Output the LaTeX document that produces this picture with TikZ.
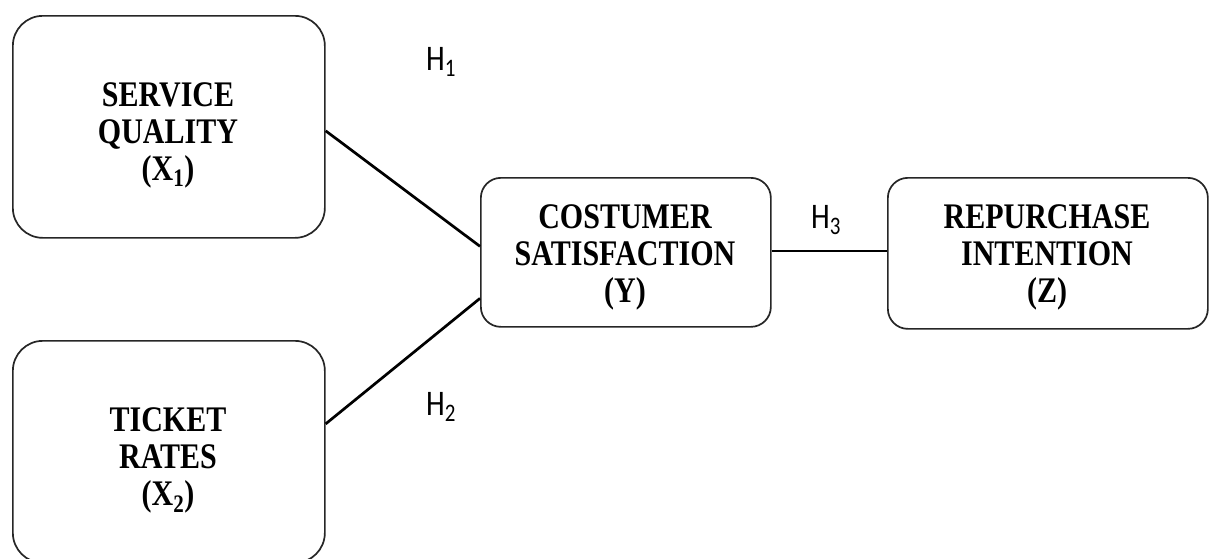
\documentclass[tikz,border=0pt]{standalone}
\usepackage{fontspec}
\usepackage{graphicx}
\setmainfont{Liberation Serif}
\newfontfamily\hfont{Carlito}
\tikzset{
  bigbox/.style={draw=black!85, line width=1.7pt, rounded corners=30pt, fill=white},
  midbox/.style={draw=black!85, line width=1.7pt, rounded corners=20pt, fill=white},
  lbl/.style={font=\fontsize{30pt}{31pt}\selectfont\bfseries, align=center, inner sep=0pt},
  hyp/.style={font=\hfont\fontsize{30pt}{31pt}\selectfont, inner sep=0pt},
  conn/.style={line width=2.7pt, black}
}
\newcommand{\tall}[1]{\scalebox{1}[1.2]{#1}}
\begin{document}
\begin{tikzpicture}[x=1pt,y=-1pt]
\useasboundingbox (0,0) rectangle (1209,558);
\node[bigbox, minimum width=312pt, minimum height=222pt, anchor=north west] (b1) at (12,15) {};
\node[bigbox, minimum width=312pt, minimum height=222pt, anchor=north west] (b2) at (12,340) {};
\node[midbox, minimum width=290pt, minimum height=149pt, anchor=north west] (y) at (480,177) {};
\node[midbox, minimum width=320pt, minimum height=151pt, anchor=north west] (z) at (887,177) {};
\node[lbl] (t1) at (168,136) {\tall{\begin{tabular}{@{}c@{}}SERVICE\\QUALITY\\(X\textsubscript{1})\end{tabular}}};
\node[lbl] (t2) at (168,461) {\tall{\begin{tabular}{@{}c@{}}TICKET\\RATES\\(X\textsubscript{2})\end{tabular}}};
\node[lbl] (ty) at (625,258) {\tall{\begin{tabular}{@{}c@{}}COSTUMER\\SATISFACTION\\(Y)\end{tabular}}};
\node[lbl] (tz) at (1047,258) {\tall{\begin{tabular}{@{}c@{}}REPURCHASE\\INTENTION\\(Z)\end{tabular}}};
\draw[conn] ([yshift=-4pt]b1.east) -- ([yshift=6pt]y.west);
\draw[conn] ([yshift=28pt]b2.east) -- ([yshift=-46pt]y.west);
\draw[conn] ([yshift=1.5pt]y.east) -- ([yshift=2.5pt]z.west);
\node[hyp] (h1) at (441,62) {\tall{H\textsubscript{1}}};
\node[hyp] (h2) at (441,407) {\tall{H\textsubscript{2}}};
\node[hyp] (h3) at (826,220) {\tall{H\textsubscript{3}}};
\end{tikzpicture}
\end{document}
